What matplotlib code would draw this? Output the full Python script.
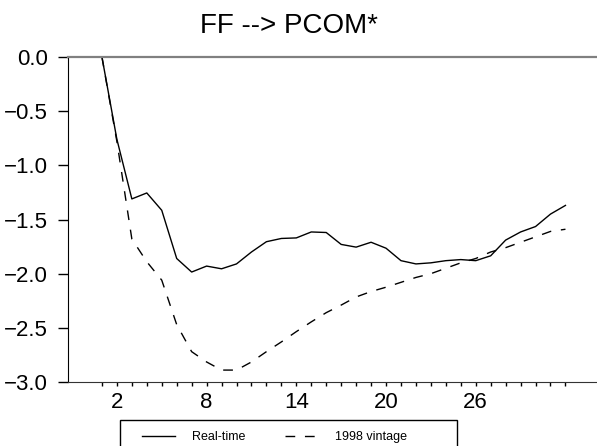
import matplotlib
matplotlib.use("Agg")
import matplotlib.pyplot as plt
from matplotlib.patches import Rectangle

# impulse response of PCOM to a funds rate shock, horizons 1..32
periods = list(range(1, 33))
real_time = [0.0, -0.76, -1.31, -1.255, -1.415, -1.86, -1.985, -1.93, -1.955, -1.91,
             -1.80, -1.705, -1.675, -1.67, -1.615, -1.62, -1.73, -1.755, -1.71, -1.765,
             -1.88, -1.91, -1.90, -1.88, -1.87, -1.88, -1.835, -1.69, -1.615, -1.565,
             -1.45, -1.37]
vintage_1998 = [0.0, -0.78, -1.68, -1.89, -2.06, -2.47, -2.72, -2.815, -2.89, -2.89,
                -2.815, -2.72, -2.63, -2.535, -2.445, -2.36, -2.29, -2.215, -2.165, -2.125,
                -2.08, -2.035, -2.00, -1.95, -1.90, -1.86, -1.80, -1.76, -1.71, -1.66,
                -1.61, -1.59]
xtick_labels = {2: "2", 8: "8", 14: "14", 20: "20", 26: "26"}
yticks = [0.0, -0.5, -1.0, -1.5, -2.0, -2.5, -3.0]

plt.rcParams["font.family"] = ["Liberation Sans", "DejaVu Sans"]

W, H = 597, 446
fig = plt.figure(figsize=(W / 100, H / 100), dpi=100)
ax = fig.add_axes([68 / W, (H - 382) / H, 1 - 68 / W, (382 - 57) / H])

l1, = ax.plot(periods, real_time, color="black", lw=1.0, label="Real-time")
l2, = ax.plot(periods, vintage_1998, color="black", lw=1.0, linestyle=(0, (7, 7)),
              label="1998 vintage")

ax.set_xlim(-1.27, 34.11)
ax.set_ylim(-3.0, 0.0)
ax.set_xticks(periods)
ax.set_xticklabels([xtick_labels.get(p, "") for p in periods])
ax.set_yticks(yticks)
ax.set_yticklabels([f"{v:.1f}".replace("-", "\u2212") for v in yticks])

ax.tick_params(axis="y", direction="out", length=7.2, width=1.0, pad=7, labelsize=16)
ax.tick_params(axis="x", direction="out", length=3, width=1.0, pad=4, labelsize=16)

ax.spines["right"].set_visible(False)
ax.spines["top"].set_color("#808080")
ax.spines["top"].set_linewidth(1.6)
ax.spines["left"].set_color("black")
ax.spines["bottom"].set_color("#333333")

fig.text(289 / W, 1 - 26 / H, "FF --> PCOM*", ha="center", va="center", fontsize=20)

# legend strip below the axis
fig.add_artist(Rectangle((120 / W, -0.05), 337 / W, 0.05 + (H - 420) / H,
                         transform=fig.transFigure, fill=False, edgecolor="black",
                         lw=1.0))
fig.legend(handles=[l1, l2], loc="center left", bbox_to_anchor=(142 / W, 1 - 437 / H),
           ncol=2, frameon=False, fontsize=9, handlelength=2.6, handletextpad=1.4,
           columnspacing=3.2, borderaxespad=0, borderpad=0)

fig.savefig("out.png", dpi=100)
